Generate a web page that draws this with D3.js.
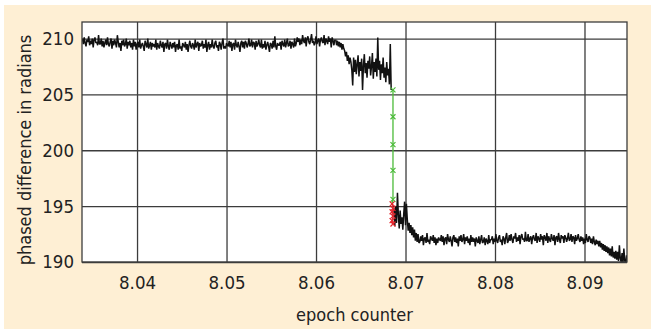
<!DOCTYPE html>
<html>
<head>
<meta charset="utf-8">
<script src="https://cdn.jsdelivr.net/npm/d3@7"></script>
<style>
  body { margin: 0; background: #fff; }
  svg { display: block; }
</style>
</head>
<body>
<div id="chart"></div>
<script>
// tick labels
const xTicks = [8.04, 8.05, 8.06, 8.07, 8.08, 8.09]
const yTicks = [190, 195, 200, 205, 210]

// sampling of the black trace
const epochStep = 0.0001

// before the jump, from epoch 8.0339
const beforeStart = 8.0339
const beforeValues = [
  210.0, 209.5, 210.1, 209.6, 209.3, 209.9, 209.7, 210.2, 209.4, 209.8, 209.5, 210.0, 209.2, 209.9, 210.1, 209.6, 209.7, 209.4, 210.3, 209.5,
  209.5, 210.0, 209.3, 209.8, 209.2, 209.6, 209.9, 209.4, 210.1, 209.5, 209.3, 209.7, 210.0, 209.1, 209.8, 209.4, 209.9, 209.6, 209.2, 210.3,
  209.7, 209.2, 209.6, 208.9, 209.8, 209.4, 209.9, 209.3, 209.5, 210.0, 209.1, 209.7, 209.4, 209.8, 209.2, 209.6, 209.0, 209.9, 209.3, 209.7,
  209.0, 209.5, 209.7, 209.2, 209.9, 209.1, 209.4, 209.6, 209.3, 208.9, 209.8, 209.5, 209.2, 210.0, 209.1, 209.4, 209.7, 209.0, 209.6, 209.3,
  209.5, 209.2, 209.9, 209.0, 209.6, 209.3, 209.1, 209.8, 209.4, 209.2, 209.7, 208.8, 209.5, 209.6, 209.1, 209.9, 209.3, 209.0, 209.7, 209.4,
  209.1, 209.6, 209.2, 209.7, 208.8, 209.4, 209.5, 209.0, 209.9, 209.1, 209.3, 208.9, 209.6, 209.4, 209.2, 209.7, 209.0, 209.5, 208.8, 209.4,
  209.8, 209.3, 209.1, 209.6, 209.4, 209.0, 209.9, 209.2, 209.5, 209.7, 208.9, 209.6, 209.3, 209.4, 209.8, 209.1, 209.5, 209.2, 209.9, 208.8,
  209.4, 209.7, 209.0, 209.5, 209.2, 209.9, 209.3, 209.1, 209.6, 209.8, 209.2, 209.4, 208.9, 209.7, 209.5, 209.0, 209.6, 210.0, 209.1, 209.3,
  209.1, 209.6, 209.4, 209.3, 209.8, 209.2, 209.7, 208.9, 209.5, 209.6, 209.0, 209.9, 209.4, 209.2, 209.7, 209.3, 208.8, 209.6, 209.8, 209.2,
  209.7, 209.1, 209.8, 209.6, 209.2, 209.5, 210.0, 209.3, 209.4, 209.9, 209.2, 209.7, 209.6, 209.0, 209.8, 209.3, 209.5, 209.9, 209.4, 209.2,
  209.9, 209.1, 209.5, 209.2, 209.8, 209.0, 209.4, 209.7, 209.3, 208.8, 209.6, 209.5, 209.1, 209.8, 209.2, 210.2, 209.3, 209.0, 209.6, 209.4,
  209.4, 209.7, 209.0, 209.8, 209.5, 209.3, 209.9, 209.2, 209.6, 210.0, 209.3, 209.4, 209.8, 209.1, 209.7, 209.5, 209.2, 210.0, 209.3, 209.6,
  210.1, 209.7, 210.0, 209.4, 209.9, 209.5, 210.3, 209.8, 209.6, 210.1, 209.3, 210.0, 210.2, 209.7, 209.5, 209.9, 210.4, 209.6, 209.8, 209.4,
  209.6, 210.2, 209.5, 209.8, 210.0, 209.3, 209.9, 210.1, 209.7, 209.6, 210.3, 209.4, 210.0, 209.8, 209.5, 210.2, 209.7, 210.0, 209.2, 210.1,
  209.8, 209.4, 209.9
]

// the noisy step down, from epoch 8.0622
const breakStart = 8.0622
const breakValues = [
  209.9, 209.4, 209.8, 209.3, 209.7, 209.2, 209.6, 209.0, 209.5, 209.1,
  208.9, 208.4, 208.8, 208.0, 208.5, 207.7, 208.3,
  207.9, 207.2, 205.8, 208.3, 207.0, 208.1, 206.8, 207.7, 208.5, 206.6,
  207.9, 207.1, 208.2, 205.4, 207.6, 208.6, 206.9, 207.8, 206.5, 208.0,
  207.3, 208.4, 206.7, 207.5, 208.7, 206.4, 207.9, 207.0, 208.2, 206.6,
  210.1, 207.2, 208.0, 206.3, 207.7, 206.9, 208.3, 206.5, 207.4, 206.1,
  207.9, 206.7, 207.3, 205.9, 209.5, 205.4
]

// the jump itself
const jumpGreenEpochs = [8.0686, 8.0686, 8.0686, 8.0686, 8.0686]
const jumpGreenValues = [205.4, 203.0, 200.5, 198.2, 195.6]
const jumpRedEpochs = [8.0685, 8.0686, 8.0685, 8.0686, 8.0685, 8.0686]
const jumpRedValues = [195.2, 194.8, 194.5, 194.1, 193.7, 193.4]

// after the jump, from epoch 8.0687
const afterStart = 8.0687
const afterValues = [
  194.8, 193.2, 195.0, 193.5, 196.2, 194.2, 193.0, 194.6, 193.4, 194.0, 192.9, 194.3, 195.4, 193.3, 195.2,
  193.8, 192.8, 193.5, 192.6, 193.3, 192.4, 193.1, 192.2, 192.9, 191.9, 192.6, 191.8, 192.5, 191.7,
  191.8, 192.3, 191.9, 192.4, 191.5, 192.1, 192.2, 191.7, 192.6, 191.8, 192.0, 191.6, 192.3, 192.1, 191.9, 192.4, 191.7, 192.2, 191.5, 192.1,
  191.7, 192.2, 192.0, 191.9, 192.4, 191.8, 192.3, 191.5, 192.1, 192.2, 191.6, 192.5, 192.0, 191.8, 192.3, 191.9, 191.4, 192.2, 192.4, 191.8,
  192.2, 191.7, 192.1, 191.4, 192.3, 191.9, 192.4, 191.8, 192.0, 192.5, 191.6, 192.2, 191.9, 192.3, 191.7, 192.1, 191.5, 192.4, 191.8, 192.2,
  191.8, 192.1, 191.4, 192.2, 191.9, 191.7, 192.3, 191.6, 192.0, 192.4, 191.7, 191.8, 192.2, 191.5, 192.1, 191.9, 191.6, 192.4, 191.7, 192.0,
  192.0, 192.3, 191.6, 192.1, 191.8, 192.5, 191.9, 191.7, 192.2, 192.4, 191.8, 192.0, 191.5, 192.3, 192.1, 191.6, 192.2, 192.6, 191.7, 191.9,
  192.4, 191.9, 192.5, 192.0, 191.7, 192.3, 192.1, 192.6, 191.8, 192.2, 191.9, 192.4, 191.6, 192.3, 192.5, 192.0, 192.1, 191.8, 192.7, 191.9,
  191.9, 192.5, 191.8, 192.1, 192.3, 191.6, 192.2, 192.4, 192.0, 191.9, 192.6, 191.7, 192.3, 192.1, 191.8, 192.5, 192.0, 192.3, 191.5, 192.4,
  192.2, 191.9, 192.6, 191.7, 192.3, 192.0, 191.8, 192.5, 192.1, 191.9, 192.4, 191.5, 192.2, 192.3, 191.8, 192.6, 192.0, 191.7, 192.4, 192.1,
  192.3, 191.7, 192.4, 192.2, 191.8, 192.1, 192.6, 191.9, 192.0, 192.5, 191.8, 192.3, 192.2, 191.6, 192.4, 191.9, 192.1, 192.5, 192.0, 191.8,
  192.3, 191.9, 192.2, 191.6, 192.1, 191.7, 192.5, 192.0, 191.8, 192.3,
  192.2, 191.7, 192.1, 191.6, 192.3, 191.8, 191.5, 192.0, 191.6, 191.9,
  191.4, 191.9, 191.3, 191.7, 191.1, 191.6, 191.0, 191.5, 190.9, 191.4,
  190.8, 191.3, 190.6, 191.2, 190.5, 191.4, 190.4, 190.9, 190.3, 191.0,
  190.2, 190.9, 190.1, 191.5, 190.3, 190.0, 190.8, 189.9, 191.2, 190.1, 189.8, 190.6, 190.0
]

const dimensions = {
  width: 651,
  height: 329,
  margin: { top: 22, right: 24, bottom: 67, left: 82 }
}
dimensions.boundedWidth = dimensions.width - dimensions.margin.left - dimensions.margin.right
dimensions.boundedHeight = dimensions.height - dimensions.margin.top - dimensions.margin.bottom

const tickFont = "'Liberation Sans Narrow', 'DejaVu Sans Condensed', sans-serif"
const labelFont = "'DejaVu Sans Condensed', 'Liberation Sans Narrow', sans-serif"

const toPoints = (start, values) => values.map((v, i) => ({ e: start + i * epochStep, v }))
const zipPoints = (epochs, values) => values.map((v, i) => ({ e: epochs[i], v }))

const svg = d3.select("#chart")
  .append("svg")
    .attr("width", dimensions.width)
    .attr("height", dimensions.height)

svg.append("rect")
  .attr("x", 4)
  .attr("y", 5)
  .attr("width", dimensions.width - 4)
  .attr("height", dimensions.height - 5)
  .attr("fill", "#feefd4")

const bounds = svg.append("g")
  .attr("transform", `translate(${dimensions.margin.left},${dimensions.margin.top})`)

const xScale = d3.scaleLinear()
  .domain([8.03385, 8.09475])
  .range([0, dimensions.boundedWidth])

const yScale = d3.scaleLinear()
  .domain([190, 211.48])
  .range([dimensions.boundedHeight, 0])

bounds.append("rect")
  .attr("width", dimensions.boundedWidth)
  .attr("height", dimensions.boundedHeight)
  .attr("fill", "#fff")

bounds.append("clipPath")
  .attr("id", "plot-clip")
  .append("rect")
    .attr("width", dimensions.boundedWidth)
    .attr("height", dimensions.boundedHeight)

// grid
const gridColor = "#3c3c3c"
const xGrid = bounds.append("g")
  .attr("transform", `translate(0,${dimensions.boundedHeight})`)
  .call(d3.axisBottom(xScale).tickValues(xTicks).tickSize(-dimensions.boundedHeight).tickFormat(""))
xGrid.select(".domain").remove()
xGrid.selectAll("line").attr("stroke", gridColor).attr("stroke-width", 1.3)

const yGrid = bounds.append("g")
  .call(d3.axisLeft(yScale).tickValues(yTicks).tickSize(-dimensions.boundedWidth).tickFormat(""))
yGrid.select(".domain").remove()
yGrid.selectAll("line").attr("stroke", gridColor).attr("stroke-width", 1.3)

// traces
const line = d3.line()
  .x(d => xScale(d.e))
  .y(d => yScale(d.v))

const traces = bounds.append("g").attr("clip-path", "url(#plot-clip)")

;[toPoints(beforeStart, beforeValues), toPoints(breakStart, breakValues), toPoints(afterStart, afterValues)]
  .forEach(points => {
    traces.append("path")
      .datum(points)
      .attr("d", line)
      .attr("fill", "none")
      .attr("stroke", "#111")
      .attr("stroke-width", 1.5)
      .attr("stroke-linejoin", "bevel")
  })

const greenPoints = zipPoints(jumpGreenEpochs, jumpGreenValues)
const redPoints = zipPoints(jumpRedEpochs, jumpRedValues)

traces.append("path")
  .datum(greenPoints.concat(redPoints.slice(0, 1)))
  .attr("d", line)
  .attr("fill", "none")
  .attr("stroke", "#4cbb3a")
  .attr("stroke-width", 1.3)

const cross = d3.symbol().type(d3.symbolTimes || d3.symbolX).size(18)

traces.selectAll(".green-mark")
  .data(greenPoints)
  .join("path")
    .attr("class", "green-mark")
    .attr("transform", d => `translate(${xScale(d.e)},${yScale(d.v)})`)
    .attr("d", cross)
    .attr("fill", "none")
    .attr("stroke", "#4cbb3a")
    .attr("stroke-width", 1.2)

traces.append("path")
  .datum(redPoints)
  .attr("d", line)
  .attr("fill", "none")
  .attr("stroke", "#e3232a")
  .attr("stroke-width", 1)

traces.selectAll(".red-mark")
  .data(redPoints)
  .join("path")
    .attr("class", "red-mark")
    .attr("transform", d => `translate(${xScale(d.e)},${yScale(d.v)})`)
    .attr("d", cross)
    .attr("fill", "none")
    .attr("stroke", "#e3232a")
    .attr("stroke-width", 1.2)

// frame
bounds.append("rect")
  .attr("width", dimensions.boundedWidth)
  .attr("height", dimensions.boundedHeight)
  .attr("fill", "none")
  .attr("stroke", gridColor)
  .attr("stroke-width", 1.3)

// tick labels
const xAxis = bounds.append("g")
  .attr("transform", `translate(0,${dimensions.boundedHeight})`)
  .call(d3.axisBottom(xScale).tickValues(xTicks).tickSize(0).tickPadding(14).tickFormat(d3.format(".2f")))
xAxis.select(".domain").remove()
xAxis.selectAll("text")
  .attr("fill", "#222")
  .style("font-family", tickFont)
  .style("font-size", "18.5px")

const yAxis = bounds.append("g")
  .call(d3.axisLeft(yScale).tickValues(yTicks).tickSize(0).tickPadding(8))
yAxis.select(".domain").remove()
yAxis.selectAll("text")
  .attr("fill", "#222")
  .style("font-family", tickFont)
  .style("font-size", "18.5px")

// axis labels
svg.append("text")
  .attr("x", dimensions.margin.left + dimensions.boundedWidth / 2)
  .attr("y", 321)
  .attr("text-anchor", "middle")
  .attr("fill", "#222")
  .style("font-family", labelFont)
  .style("font-size", "18px")
  .text("epoch counter")

svg.append("text")
  .attr("transform", `translate(31,${dimensions.margin.top + dimensions.boundedHeight / 2 + 8}) rotate(-90)`)
  .attr("text-anchor", "middle")
  .attr("fill", "#222")
  .style("font-family", labelFont)
  .style("font-size", "18px")
  .text("phased difference in radians")
</script>
</body>
</html>
